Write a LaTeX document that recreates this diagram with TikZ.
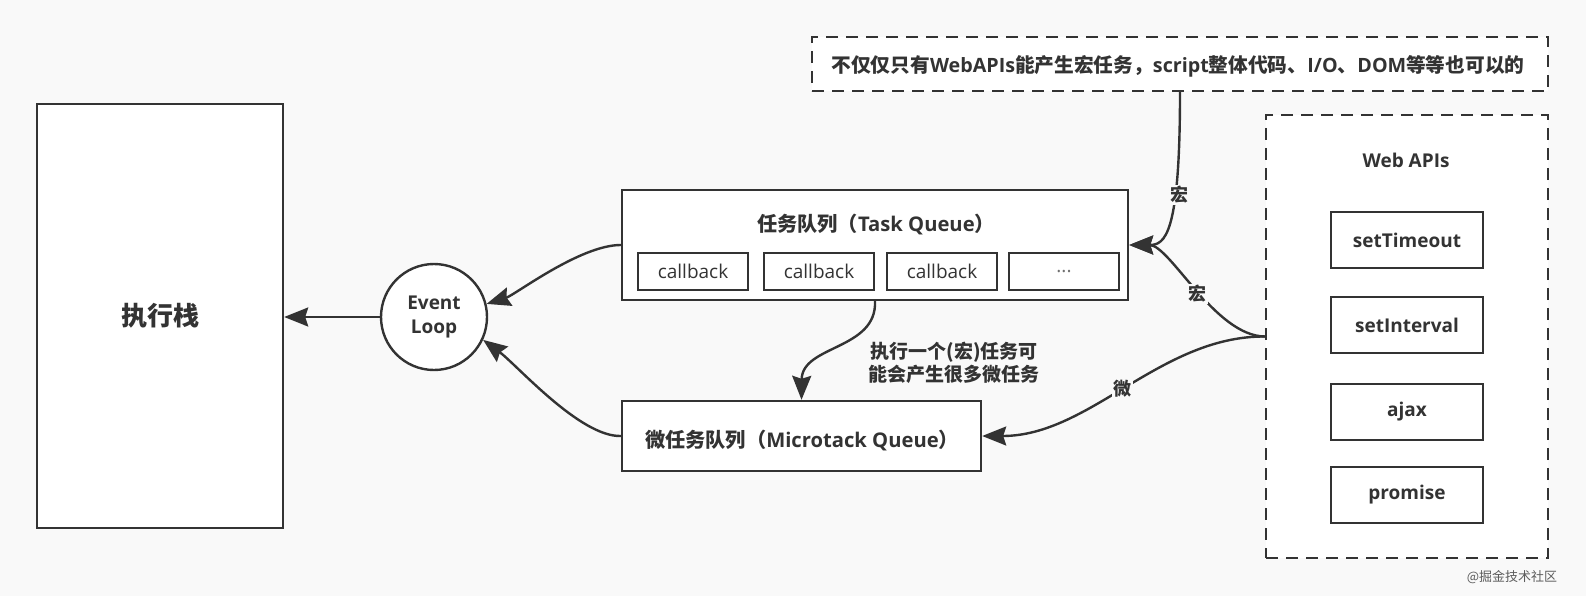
\documentclass[tikz,border=0pt]{standalone}
\usepackage{fontspec}
\setmainfont{Open Sans}
\newfontfamily\cjkfont{Noto Sans CJK SC}
\newcommand{\zhtxt}[1]{{\cjkfont #1}}
\usetikzlibrary{arrows.meta}
\definecolor{bg}{HTML}{F9F9F9}
\definecolor{ink}{HTML}{333333}
\begin{document}
\begin{tikzpicture}[x=1pt,y=-1pt,
  box/.style={draw=ink, line width=2.4pt, fill=white, inner sep=0pt, text=ink},
  dbox/.style={box, dash pattern=on 12pt off 8pt},
  conn/.style={draw=ink, line width=2.4pt, -{Stealth[length=24pt,width=19pt,inset=3pt]}},
  txt/.style={text=ink, inner sep=0pt, font=\fontsize{19}{23.5}\selectfont\bfseries},
  ttl/.style={text=ink, inner sep=0pt, font=\fontsize{20.2}{24}\selectfont\bfseries},
  lbl/.style={fill=bg, text=ink, inner sep=1.5pt, font=\fontsize{18}{20}\selectfont\bfseries},
  cbbox/.style={box, minimum width=110pt, minimum height=37pt, font=\fontsize{19}{22}\selectfont},
  apibox/.style={box, minimum width=152pt, minimum height=56pt, font=\fontsize{19}{22}\selectfont\bfseries}
]
\fill[bg] (0,0) rectangle (1586,596);
\useasboundingbox (0,0) rectangle (1586,596);

% left stack
\node[box, minimum width=246pt, minimum height=424pt, font=\fontsize{26}{30}\selectfont\bfseries] (stack) at (160,316) {\zhtxt{执行栈}};

% event loop
\node[circle, draw=ink, line width=2.4pt, fill=white, minimum size=106pt, inner sep=0pt, align=center, text=ink, font=\fontsize{19}{23.5}\selectfont\bfseries] (el) at (434,317) {Event\\Loop};

% task queue
\node[box, minimum width=506pt, minimum height=110pt] (task) at (875,245) {};
\node[ttl] (tasktitle) at (876,224) {\zhtxt{任务队列（}Task Queue\zhtxt{）}};
\node[cbbox] (cb1) at (693,271.5) {callback};
\node[cbbox] (cb2) at (819,271.5) {callback};
\node[cbbox] (cb3) at (942,271.5) {callback};
\node[cbbox] (cb4) at (1064,271.5) {\textcolor{ink!70}{...}};

% microtask queue
\node[box, minimum width=359pt, minimum height=70pt] (micro) at (801.5,436) {};
\node[ttl] (microtitle) at (802,440) {\zhtxt{微任务队列（}Microtack Queue\zhtxt{）}};

% note
\node[dbox, minimum width=736pt, minimum height=54pt] (note) at (1180,64) {};
\node[txt, font=\fontsize{19.7}{23.5}\selectfont\bfseries] (notetext) at (1178,66) {\zhtxt{不仅仅只有}WebAPIs\zhtxt{能产生宏任务，}script\zhtxt{整体代码、}I/O\zhtxt{、}DOM\zhtxt{等等也可以的}};

% web apis
\node[dbox, minimum width=282pt, minimum height=443pt] (webapi) at (1407,336.5) {};
\node[txt] (webtitle) at (1406,160) {Web APIs};
\node[apibox] (st) at (1407,240) {setTimeout};
\node[apibox] (si) at (1407,325) {setInterval};
\node[apibox] (aj) at (1407,412) {ajax};
\node[apibox] (pr) at (1407,495) {promise};

% explanatory text
\node[txt, align=center] (expl) at (954,363) {\zhtxt{执行一个(宏)任务可}\\\zhtxt{能会产生很多微任务}};

% connectors
\draw[conn] (el.west) -- (stack.east |- el.west);
\draw[conn] (task.west) .. controls (580,245) and (515,295) .. (el.14);
\draw[conn] (micro.west) .. controls (580,437) and (517,365) .. (el.-25);
\draw[conn] (task.south) .. controls (877,350) and (802,345) .. (micro.north);
\draw[conn] (webapi.west) .. controls (1215,336) and (1170,245) .. (task.east);
\draw[conn] (note.south) .. controls (1180,235) and (1165,245) .. (task.east);
\draw[conn] (webapi.west) .. controls (1160,336) and (1090,436) .. (micro.east);

% labels
\node[lbl] (l1) at (1179,195) {\zhtxt{宏}};
\node[lbl] (l2) at (1197,294) {\zhtxt{宏}};
\node[lbl] (l3) at (1122,389) {\zhtxt{微}};

% watermark
\node[text=ink!80, inner sep=0pt, font=\fontsize{13}{15}\selectfont] (wm) at (1512,577) {\zhtxt{@掘金技术社区}};
\end{tikzpicture}
\end{document}
